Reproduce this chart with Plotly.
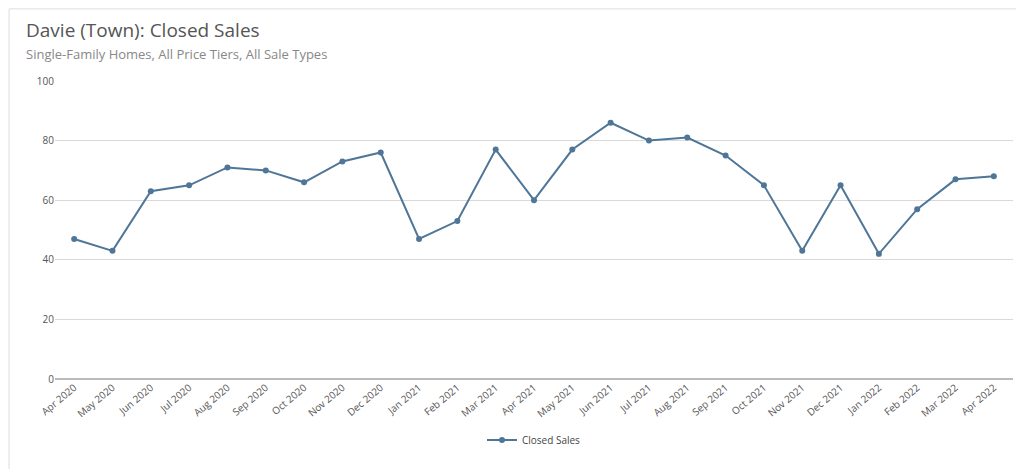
import plotly.graph_objects as go

months = ["Apr 2020", "May 2020", "Jun 2020", "Jul 2020", "Aug 2020", "Sep 2020",
          "Oct 2020", "Nov 2020", "Dec 2020", "Jan 2021", "Feb 2021", "Mar 2021",
          "Apr 2021", "May 2021", "Jun 2021", "Jul 2021", "Aug 2021", "Sep 2021",
          "Oct 2021", "Nov 2021", "Dec 2021", "Jan 2022", "Feb 2022", "Mar 2022",
          "Apr 2022"]
closed_sales = [47, 43, 63, 65, 71, 70, 66, 73, 76, 47, 53, 77, 60, 77, 86, 80,
                81, 75, 65, 43, 65, 42, 57, 67, 68]

LINE_COLOR = "#4f7597"

fig = go.Figure(go.Scatter(
    x=months, y=closed_sales, mode="lines+markers", name="Closed Sales",
    line=dict(color=LINE_COLOR, width=2), marker=dict(size=6, color=LINE_COLOR),
))

fig.update_layout(
    width=1024, height=469,
    paper_bgcolor="white", plot_bgcolor="white",
    font=dict(family="Open Sans", size=10, color="#555"),
    margin=dict(l=47, r=19, t=73, b=98, autoexpand=False),
    showlegend=True,
    legend=dict(orientation="h", x=0.5, xanchor="center", y=-0.205, yanchor="middle",
                font=dict(size=10, color="#444")),
    annotations=[
        dict(text="Davie (Town): Closed Sales", xref="paper", yref="paper",
             x=-0.032, y=1.171, xanchor="left", yanchor="middle", showarrow=False,
             font=dict(size=19, color="#555")),
        dict(text="Single-Family Homes, All Price Tiers, All Sale Types", xref="paper",
             yref="paper", x=-0.032, y=1.09, xanchor="left", yanchor="middle",
             showarrow=False, font=dict(size=13, color="#888")),
    ],
    shapes=[dict(type="rect", xref="paper", yref="paper", x0=-0.048, x1=1.019,
                 y0=-0.322, y1=1.242, line=dict(color="#ddd", width=1))],
)
fig.update_xaxes(tickangle=-40, showgrid=False, showline=False, ticks="",
                 automargin=False, range=[-0.5, len(months) - 0.5])
fig.update_yaxes(range=[0, 100], dtick=20, gridcolor="#d9d9d9", zeroline=True,
                 zerolinecolor="#bbb", ticks="", automargin=False)

fig.write_html("out.html")
